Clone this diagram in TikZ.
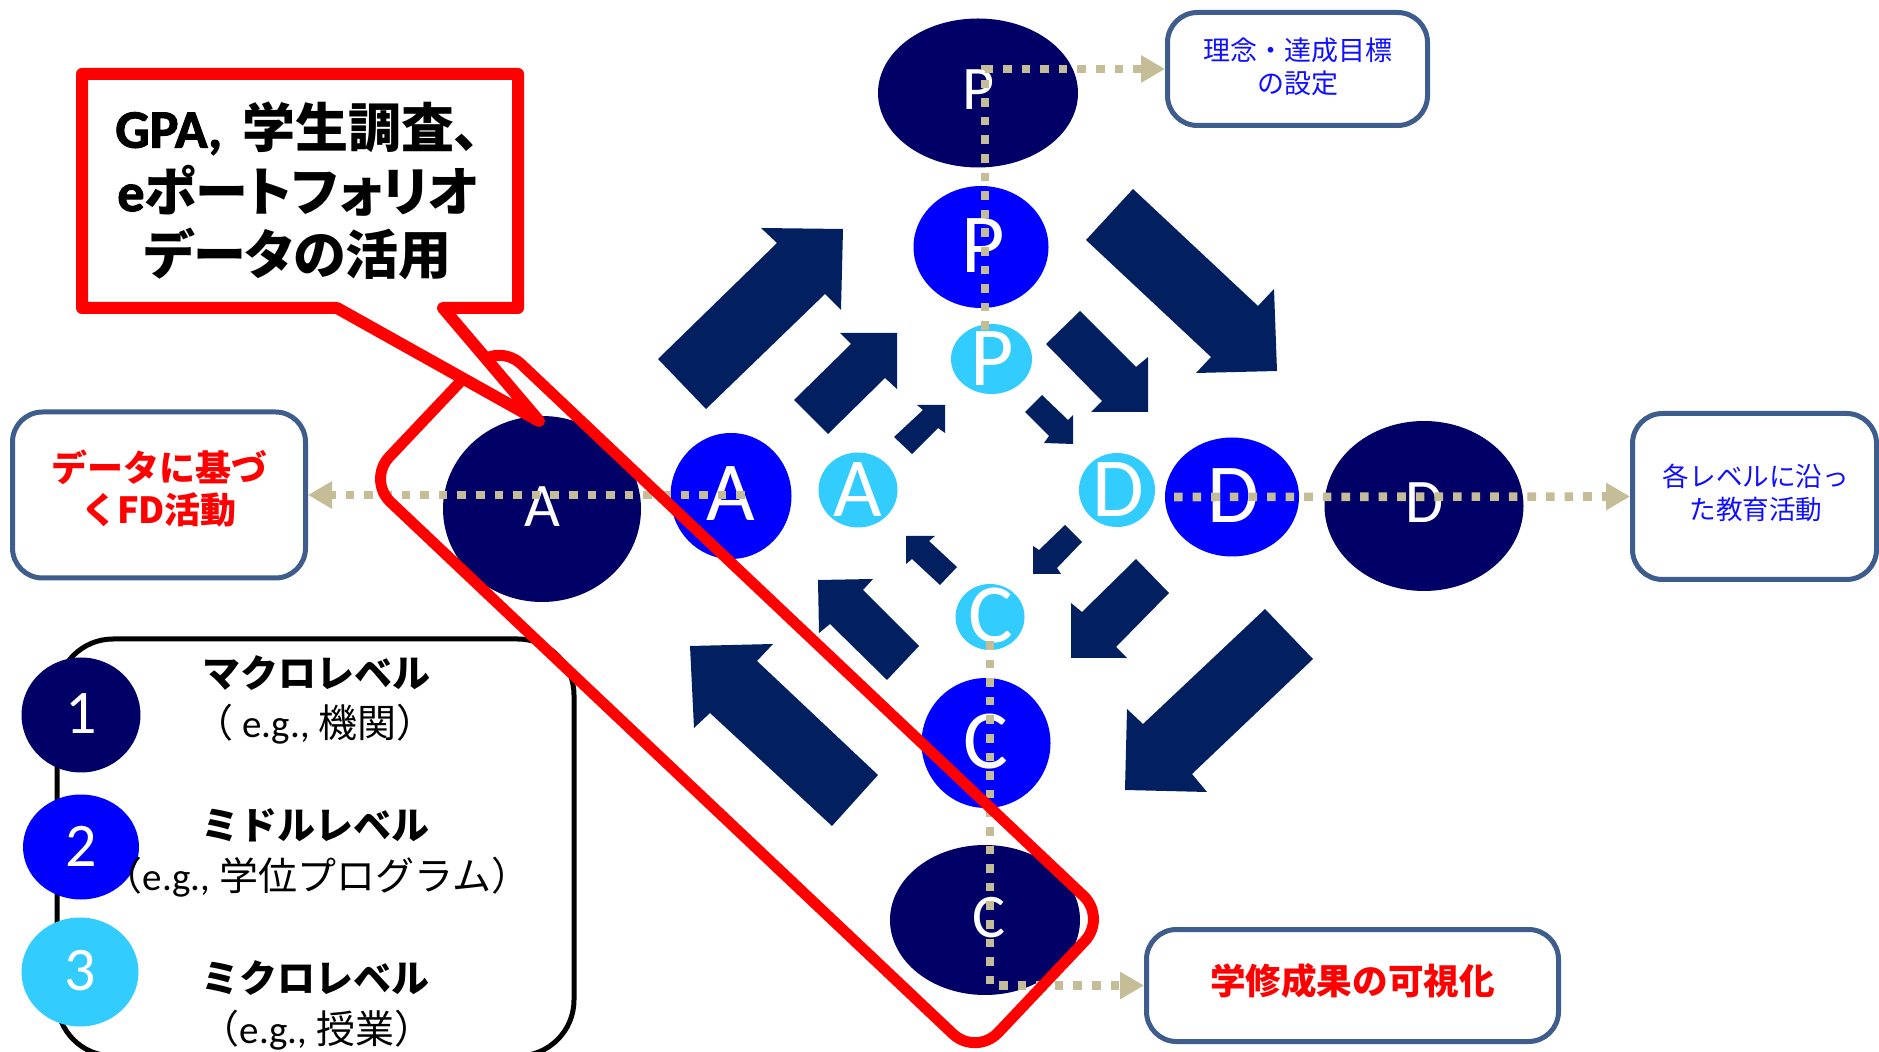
\documentclass[tikz,border=0pt]{standalone}
\usepackage{fontspec}
\setmainfont{Noto Sans CJK JP}
\newfontfamily\jppalt{Noto Sans CJK JP}[RawFeature=+palt]
\newfontfamily\calib{Carlito}[BoldFont={Carlito Bold}]
\newfontfamily\calibhv{Carlito Bold}[FakeBold=2]
\usetikzlibrary{shapes.geometric,arrows.meta}
\definecolor{lvonec}{RGB}{0,0,102}
\definecolor{lvtwoc}{RGB}{0,0,255}
\definecolor{lvthreec}{RGB}{51,204,255}
\definecolor{arrowblue}{RGB}{2,32,96}
\definecolor{dotcol}{RGB}{196,189,151}
\definecolor{boxline}{RGB}{62,93,140}
\definecolor{txtblue}{RGB}{16,16,255}
\tikzset{
  lvell/.style={ellipse, inner sep=0pt, draw=none},
  lvone/.style={lvell, fill=lvonec},
  lvtwo/.style={lvell, fill=lvtwoc},
  lvthree/.style={lvell, fill=lvthreec},
  bigletter/.style={inner sep=0pt, text=white, font=\calib\fontsize{42}{42}\selectfont},
  smallletter/.style={inner sep=0pt, text=white, font=\calib\fontsize{31}{31}\selectfont},
  dotline/.style={draw=dotcol, line width=4.3pt, dash pattern=on 4.3pt off 5pt, -{Triangle[length=12pt,width=13pt]}},
  boxst/.style={draw=boxline, line width=2.5pt, rounded corners=15pt, fill=white, inner sep=0pt},
  boxtext/.style={inner sep=0pt, align=center},
  blockarrow/.style={fill=arrowblue},
  legb/.style={inner sep=0pt, font=\bfseries\fontsize{19}{20}\selectfont},
  legr/.style={inner sep=0pt, font=\fontsize{19.5}{20}\selectfont},
}
\begin{document}
\begin{tikzpicture}[x=0.5pt,y=-0.5pt]
\useasboundingbox[fill=white] (0,0) rectangle (1879,1052);

% ---- block arrows: outer ring
\fill[blockarrow] (658,359) -- (777,243) -- (761,228) -- (843,229) -- (841,310) -- (825,294) -- (706,409) -- cycle;
\fill[blockarrow] (1086,240) -- (1211,357) -- (1196,373) -- (1277,371) -- (1274,289) -- (1258,306) -- (1133,189) -- cycle;
\fill[blockarrow] (1265,609) -- (1143,724) -- (1127,709) -- (1125,790) -- (1207,792) -- (1192,774) -- (1313,659) -- cycle;
\fill[blockarrow] (878,775) -- (757,661) -- (773,644) -- (690,646) -- (694,728) -- (710,713) -- (832,826) -- cycle;
% middle ring
\fill[blockarrow] (794,400) -- (851,344) -- (840,333) -- (897,333) -- (897,389) -- (885,378) -- (828,434) -- cycle;
\fill[blockarrow] (1046,344) -- (1102,401) -- (1091,412) -- (1148,412) -- (1148,357) -- (1136,367) -- (1080,311) -- cycle;
\fill[blockarrow] (1136,559) -- (1082,612) -- (1071,603) -- (1071,658) -- (1127,658) -- (1116,647) -- (1169,593) -- cycle;
\fill[blockarrow] (919,646) -- (863,590) -- (873,579) -- (818,580) -- (819,633) -- (830,624) -- (887,680) -- cycle;
% inner ring
\fill[blockarrow] (894,437) -- (923,410) -- (917,405) -- (945,405) -- (945,433) -- (938,428) -- (912,454) -- cycle;
\fill[blockarrow] (1025,412) -- (1049,436) -- (1044,443) -- (1073,444) -- (1073,415) -- (1068,420) -- (1042,395) -- cycle;
\fill[blockarrow] (1065,525) -- (1039,550) -- (1033,546) -- (1033,574) -- (1061,574) -- (1057,568) -- (1082,542) -- cycle;
\fill[blockarrow] (957,567) -- (929,541) -- (935,536) -- (906,536) -- (906,564) -- (912,559) -- (940,585) -- cycle;

% ---- level ellipses
\node[lvone, minimum width=100pt, minimum height=74.5pt] (P1) at (978,93) {};
\node[lvone, minimum width=99pt, minimum height=93pt] (A1) at (542,509) {};
\node[lvone, minimum width=99.5pt, minimum height=85pt] (D1) at (1424,506) {};
\node[lvone, minimum width=95pt, minimum height=75pt] (C1) at (985,920) {};
\node[lvtwo, minimum width=67.5pt, minimum height=61pt] (P2) at (981,247) {};
\node[lvtwo, minimum width=60.5pt, minimum height=63pt] (A2) at (731,496) {};
\node[lvtwo, minimum width=67pt, minimum height=59.5pt] (D2) at (1232,497) {};
\node[lvtwo, minimum width=64.5pt, minimum height=65pt] (C2) at (986,743) {};
\node[lvthree, minimum width=40.5pt, minimum height=35pt] (P3) at (991.5,359) {};
\node[lvthree, minimum width=39.5pt, minimum height=37.5pt] (A3) at (858,490) {};
\node[lvthree, minimum width=38pt, minimum height=37pt] (D3) at (1117,490) {};
\node[lvthree, minimum width=34.5pt, minimum height=33pt] (C3) at (990,617) {};

% ---- letters
\node[smallletter] (P1t) at (979,90) {P};
\node[smallletter] (A1t) at (542,507) {A};
\node[smallletter] (D1t) at (1425,503) {D};
\node[smallletter] (C1t) at (989,918) {C};
\node[bigletter] (P2t) at (983,246) {P};
\node[bigletter] (A2t) at (731,494) {A};
\node[bigletter] (D2t) at (1233,496) {D};
\node[bigletter] (C2t) at (986,742) {C};
\node[bigletter] (P3t) at (992,359) {P};
\node[bigletter] (A3t) at (858,490) {A};
\node[bigletter] (D3t) at (1118,490) {D};
\node[bigletter] (C3t) at (991,616) {C};

% ---- side boxes
\node[boxst, minimum width=130pt, minimum height=56.5pt] (topbox) at (1297.5,69) {};
\node[boxtext, text=txtblue, font=\fontsize{13.5}{16.5}\selectfont] (topboxt) at (1297.5,67) {理念・達成目標\\の設定};
\node[boxst, minimum width=146.5pt, minimum height=83pt] (leftbox) at (159,495) {};
\node[boxtext, text=red, font=\bfseries\fontsize{18}{21}\selectfont] (leftboxt) at (159,489) {データに基づ\\くFD活動};
\node[boxst, minimum width=122pt, minimum height=83pt] (rightbox) at (1754.5,496.5) {};
\node[boxtext, text=txtblue, font=\fontsize{13.3}{16.5}\selectfont] (rightboxt) at (1756,493) {各レベルに沿っ\\た教育活動};
\node[boxst, minimum width=206pt, minimum height=56pt] (botbox) at (1352.5,985.5) {};
\node[boxtext, text=red, font=\bfseries\fontsize{17.8}{21}\selectfont] (botboxt) at (1352.5,981) {学修成果の可視化};

% ---- dotted connectors
\coordinate (ptop) at (985,330);
\coordinate (astart) at (745,495);
\coordinate (dstart) at (1174,497);
\coordinate (cstart) at (990,641);
\draw[dotline] (ptop) |- (topbox.west);
\draw[dotline] (astart) -- (leftbox.east);
\draw[dotline] (dstart) -- (rightbox.west);
\draw[dotline] (cstart) |- (botbox.west);

% ---- legend
\node[draw=black, line width=2.5pt, rounded corners=28pt, minimum width=258.5pt, minimum height=208.5pt, inner sep=0pt] (legend) at (315.5,847.5) {};
\node[lvone, minimum width=59.5pt, minimum height=57.5pt] (L1) at (81,715) {};
\node[lvtwo, minimum width=58pt, minimum height=52.5pt] (L2) at (81,847) {};
\node[lvthree, minimum width=58.5pt, minimum height=54.5pt] (L3) at (80,972) {};
\node[smallletter] (L1t) at (81,714) {1};
\node[smallletter] (L2t) at (81,846) {2};
\node[smallletter] (L3t) at (80,971) {3};
\node[legb] (l1a) at (316,673) {マクロレベル};
\node[legr] (l1b) at (315,724) {（ {\calib e.g.,} 機関）};
\node[legb] (l2a) at (315,825) {ミドルレベル};
\node[legr] (l2b) at (317,877) {（{\calib e.g.,} 学位プログラム）};
\node[legb] (l3a) at (315,978) {ミクロレベル};
\node[legr] (l3b) at (317,1030) {（{\calib e.g.,} 授業）};

% ---- red highlight
\node[draw=red, line width=5.5pt, rounded corners=16pt, minimum width=419pt, minimum height=95pt, rotate=-43.4, inner sep=0pt] (focus) at (737,699) {};

% ---- callout
\coordinate (ctip) at (539,421);
\draw[draw=red, line width=6pt, fill=white, line join=round] (82,74) -- (518,74) -- (518,308) -- (443,308) -- (ctip) -- (337,308) -- (82,308) -- cycle;
\node[inner sep=0pt, align=center, font=\jppalt\bfseries\fontsize{26.5}{31.75}\selectfont] (callout) at (298,191) {{\calibhv\fontsize{27}{31.75}\selectfont GPA,}\hspace{10pt}学生調査、\\{\calibhv\fontsize{27}{31.75}\selectfont e}ポートフォリオ\\データの活用};
\end{tikzpicture}
\end{document}
